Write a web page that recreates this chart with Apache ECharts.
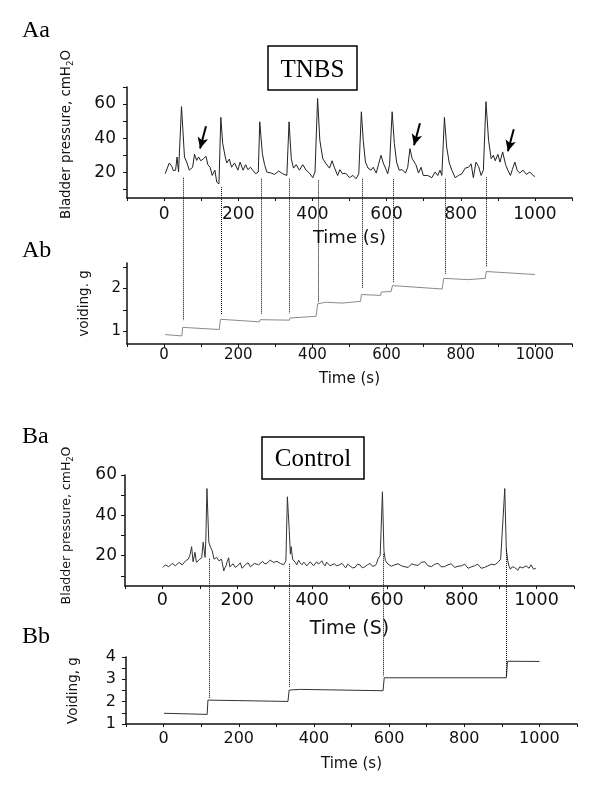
<!DOCTYPE html>
<html><head><meta charset="utf-8">
<script src="https://cdn.jsdelivr.net/npm/echarts@6/dist/echarts.min.js"></script>
<style>html,body{margin:0;padding:0;background:#fff}#c{width:600px;height:786px}</style>
</head><body><div id="c"></div>
<script>
// ---------- Aa: TNBS bladder pressure (cmH2O) ----------
const tnbsPressureTime = [3,14,21,25,31,35,39,47,55,61,
  68,77,82,88,93,99,106,113,118,124,
  130,137,142,148,153,158,165,169,176,182,
  190,199,205,213,220,226,233,240,247,254,
  258,265,271,277,289,298,309,320,331,337,
  343,349,356,365,374,383,392,401,407,414,
  420,428,437,446,453,459,468,474,481,490,
  500,509,518,525,532,537,543,550,558,564,
  572,578,585,591,597,603,608,615,621,627,
  634,642,651,657,663,669,673,679,686,693,
  699,711,722,731,738,744,749,756,762,769,
  776,785,794,803,812,821,828,834,841,848,
  855,861,868,875,882,888,893,900,906,913,
  921,927,934,939,946,952,959,968,977,986,
  995,1000];
const tnbsPressure = [19.2,25.5,23.5,21,21.3,29,20.2,58.5,29,26,
  21.3,23,30.6,27,29,26.8,28,29.4,24.5,23,
  18.2,21.3,14.3,13.3,52.2,37,29,25.5,27.8,23,
  25.5,21.3,26,21.3,24.5,21.6,23,21,19.2,20.2,
  49.6,31,24.5,20.2,19.6,18.8,20.8,19.2,18.2,49.6,
  28,22.5,24.5,21.3,24.5,21.3,19.6,16.9,20.2,63.3,
  38.8,28,25,22.5,26.8,23,18.2,21.6,19.2,19.5,
  16.9,18.2,16.3,19.2,55.5,38.8,26,22.5,21.3,23,
  19.6,24.5,30,25.5,22.5,19.2,24.5,55.5,36.9,26,
  21.3,21.6,19.6,23,33.9,28,29,24.5,19.6,23,
  18.2,18.2,16.9,20.2,18.2,21.3,18.2,52.2,34.9,25.5,
  21.3,16.9,18.2,19.2,22.5,23,25,16.9,26,23.5,
  18.2,21.3,61.4,38.8,28,30,26.8,30.6,26,32,
  24.5,21.3,18.2,21.6,26,21.3,19.6,21.3,18.8,20.2,
  18.2,17.6];
// arrows in Aa (tail -> tip, in data units)
const arrowTailTime = [113,690,943];
const arrowTailValue = [47,48.8,45.3];
const arrowTipTime = [97,674,927];
const arrowTipValue = [34,35.9,32.4];

// ---------- Ab: TNBS voiding (g) ----------
const tnbsVoidTime = [3,48,50,149,152,257,259,338,340,410,414,435,480,482,530,532,584,586,612,616,750,754,820,822,866,869,1000];
const tnbsVoid = [0.92,0.89,1.09,1.04,1.28,1.22,1.27,1.26,1.31,1.35,1.64,1.68,1.66,1.7,1.7,1.86,1.84,1.92,1.93,2.07,1.99,2.24,2.21,2.24,2.24,2.4,2.33];

// dotted connectors Aa -> Ab
const tnbsEventTime = [51,154,261,337,415,534,617,757,868];
const tnbsEventPressure = [16.9,11.4,16.3,16.3,15.3,16.3,16,16.3,17.2];
const tnbsEventVoid = [1.26,1.4,1.4,1.42,1.67,2.0,2.14,2.35,2.5];

// ---------- Ba: Control bladder pressure ----------
const ctrlPressureTime = [1,8,17,26,35,44,53,62,69,74,
  78,82,87,91,98,105,109,114,116,119,
  124,129,133,138,145,151,158,164,167,170,
  173,177,180,184,189,195,200,204,208,213,
  218,223,229,235,240,246,251,257,262,268,
  273,279,284,288,292,297,301,306,310,315,
  319,324,327,330,334,339,342,344,348,352,
  355,359,364,368,373,378,382,386,391,395,
  400,404,408,412,417,421,426,430,435,439,
  444,448,453,459,466,473,480,485,490,495,
  501,508,515,521,528,534,541,548,555,561,
  568,572,577,582,588,592,596,603,612,621,
  630,639,648,657,666,674,683,692,701,710,
  719,728,737,745,754,763,772,781,790,799,
  808,817,826,834,843,852,861,870,879,888,
  897,904,909,915,919,923,926,930,935,941,
  945,950,955,959,963,968,972,976,980,985,
  988,992,995,998];
const ctrlPressure = [14.2,15.5,14.5,16.2,15,16.7,15.5,17.5,18.3,20.5,
  24.5,17,21.7,16.7,18,19,26.7,19.2,27.5,53.3,
  26.7,24,22.5,18.3,19.2,17.5,18.3,12.5,14,15,
  17,19,14.5,15,16,14.2,13.8,15.5,16.5,13.8,
  14.5,15.8,16.5,14.5,15,16.2,17,15.5,15.5,17.2,
  16,16.2,16.5,17.8,18,16.7,16,17.2,17.5,16.2,
  15.5,15.5,16.5,17.5,49.2,32.5,20.8,24.5,18.3,17.5,
  16.7,15.5,17.8,16.5,15.5,16.8,17.2,15,14.2,17,
  16.2,15,14.5,17,15.8,15.8,17.5,16,15,16.8,
  16.7,15,15.5,16,15,15.5,16.2,15,14,15.8,
  15,14,14.2,15.8,15.5,14,14.5,15.5,16.2,14.8,
  15,16,18.8,20,51.7,22.5,17.5,15.8,14.8,15.5,
  16,15,14.5,14.2,16,15.5,15.2,16.7,17,15,
  14.6,15.8,16.2,14.5,14.6,15.5,16,14.2,14.8,15,
  15.8,13.8,14.5,15,15.8,13.8,14.2,15,15.8,15.5,
  16.7,18.3,17.5,53.3,23.3,17.5,15,13.3,14.5,14.2,
  13.5,12.8,14.5,15,14,13.8,15,14.5,13.8,15.5,
  15,13.3,14,13.8];

// ---------- Bb: Control voiding ----------
const ctrlVoidTime = [1,116,118,331,334,364,584,587,590,912,915,1000];
const ctrlVoid = [1.48,1.43,2.07,2.01,2.52,2.55,2.49,3.07,3.13,3.07,3.81,3.8];

// dotted connectors Ba -> Bb
const ctrlEventTime = [125,339,589,917];
const ctrlEventPressure = [18.5,16,21,23.3];
const ctrlEventVoid = [2.16,2.65,3.14,3.1];

// ---------- ticks / labels ----------
const xTicks = [-100,0,100,200,300,400,500,600,700,800,900,1000,1100];
const xLabels = [0,200,400,600,800,1000];
const pressATicks = [10,20,30,40,50,60,70];
const pressBTicks = [10,20,30,40,50,60];
const pressLabels = [20,40,60];
const voidATicks = [1,1.5,2,2.5];
const voidALabels = [1,2];
const voidBTicks = [1,1.5,2,2.5,3,3.5,4];
const voidBLabels = [1,2,3,4];

const SANS = 'DejaVu Sans';
const INK = '#111';
const plain = v => String(v);

function zip(a,b){ return a.map((t,i)=>[t,b[i]]); }

function xAx(gi, fs, margin, name, nfs, ngap){
  return {type:'value', gridIndex:gi, min:-100, max:1100,
    axisLine:{show:true, onZero:false, lineStyle:{color:INK, width:1.5}},
    axisTick:{show:true, inside:false, length:3, customValues:xTicks, lineStyle:{color:INK, width:1}},
    axisLabel:{customValues:xLabels, formatter:plain, fontFamily:SANS, fontSize:fs, color:INK, margin:margin},
    splitLine:{show:false},
    name:name, nameLocation:'middle', nameGap:ngap,
    nameTextStyle:{fontFamily:SANS, fontSize:nfs, color:INK}};
}
function yAx(gi, min, max, ticks, labels, fs, margin, name, rich, ngap, pad){
  return {type:'value', gridIndex:gi, min:min, max:max,
    axisLine:{show:true, onZero:false, lineStyle:{color:INK, width:1.5}},
    axisTick:{show:true, inside:false, length:4, customValues:ticks, lineStyle:{color:INK, width:1}},
    axisLabel:{customValues:labels, formatter:plain, fontFamily:SANS, fontSize:fs, color:INK, margin:margin},
    splitLine:{show:false},
    name:name, nameLocation:'middle', nameGap:ngap, nameRotate:90,
    nameTextStyle:Object.assign({fontFamily:SANS, color:INK, padding:pad}, rich)};
}
function presRich(fs){
  return {rich:{a:{fontFamily:SANS, fontSize:fs, color:INK, lineHeight:16},
                s:{fontFamily:SANS, fontSize:fs*0.65, color:INK, lineHeight:8, verticalAlign:'bottom'}}};
}

const arrowData = arrowTailTime.map((t,i)=>[
  {coord:[t, arrowTailValue[i]], symbol:'none'},
  {coord:[arrowTipTime[i], arrowTipValue[i]], symbol:'arrow'}
]);

const chart = echarts.init(document.getElementById('c'));
chart.setOption({
  animation:false,
  backgroundColor:'#fff',
  grid:[
    {left:127, top:87, width:445, height:111},
    {left:127, top:263, width:445, height:81},
    {left:125, top:475, width:449, height:111},
    {left:126, top:657, width:451, height:67}
  ],
  xAxis:[
    xAx(0, 17, 8, 'Time (s)', 18, 31),
    xAx(1, 15, 4, 'Time (s)', 15, 28),
    xAx(2, 17.5, 5, 'Time (S)', 19, 34),
    xAx(3, 16, 7, 'Time (s)', 15, 33)
  ],
  yAxis:[
    yAx(0, 5, 70, pressATicks, pressLabels, 17, 11, '{a|Bladder pressure, cmH}{s|2}{a|O}', presRich(13.4), 52, [0,0,0,16]),
    yAx(1, 0.7, 2.6, voidATicks, voidALabels, 15, 6, 'voiding. g', {fontSize:13.5}, 36, 0),
    yAx(2, 5, 60, pressBTicks, pressLabels, 17, 8, '{a|Bladder pressure, cmH}{s|2}{a|O}', presRich(12.5), 50, [0,0,0,10]),
    yAx(3, 1, 4, voidBTicks, voidBLabels, 16, 10, 'Voiding, g', {fontSize:13.5}, 46, 0)
  ],
  series:[
    {type:'line', xAxisIndex:0, yAxisIndex:0, data:zip(tnbsPressureTime,tnbsPressure),
     showSymbol:false, symbol:'none', lineStyle:{color:'#222', width:1}, silent:true,
     markLine:{silent:true, animation:false, symbol:['none','arrow'], symbolSize:[8,11],
       lineStyle:{color:'#000', width:2, type:'solid'}, label:{show:false}, emphasis:{disabled:true},
       data:arrowData}},
    {type:'line', xAxisIndex:1, yAxisIndex:1, data:zip(tnbsVoidTime,tnbsVoid),
     showSymbol:false, symbol:'none', lineStyle:{color:'#8a8a8a', width:1}, silent:true},
    {type:'line', xAxisIndex:2, yAxisIndex:2, data:zip(ctrlPressureTime,ctrlPressure),
     showSymbol:false, symbol:'none', lineStyle:{color:'#333', width:1}, silent:true},
    {type:'line', xAxisIndex:3, yAxisIndex:3, data:zip(ctrlVoidTime,ctrlVoid),
     showSymbol:false, symbol:'none', lineStyle:{color:'#333', width:1}, silent:true}
  ]
});

// connectors computed through the axes
const gfx = [];
function connect(times, pv, vv, ax1, ax2){
  times.forEach((t,i)=>{
    const p1 = chart.convertToPixel({xAxisIndex:ax1, yAxisIndex:ax1}, [t, pv[i]]);
    const p2 = chart.convertToPixel({xAxisIndex:ax2, yAxisIndex:ax2}, [t, vv[i]]);
    const x = Math.round(p1[0]) + 0.5;
    gfx.push({type:'line', silent:true, z:50,
      shape:{x1:x, y1:p1[1], x2:x, y2:p2[1]},
      style:{stroke:'#000', lineWidth:1, lineDash:[1,1]}});
  });
}
connect(tnbsEventTime, tnbsEventPressure, tnbsEventVoid, 0, 1);
connect(ctrlEventTime, ctrlEventPressure, ctrlEventVoid, 2, 3);

function panelLabel(txt, x, y){
  return {type:'text', silent:true, x:x, y:y,
    style:{text:txt, font:'24px "Liberation Serif"', fill:'#000', textAlign:'left', verticalAlign:'middle'}};
}
gfx.push(panelLabel('Aa', 22, 31));
gfx.push(panelLabel('Ab', 22, 251));
gfx.push(panelLabel('Ba', 22, 437));
gfx.push(panelLabel('Bb', 22, 637));
function box(txt, x, y, w, h, ty){
  gfx.push({type:'rect', silent:true, shape:{x:x, y:y, width:w, height:h},
    style:{fill:'#fff', stroke:'#000', lineWidth:1.5}});
  gfx.push({type:'text', silent:true, x:x + w/2, y:ty,
    style:{text:txt, font:'25px "Liberation Serif"', fill:'#000', textAlign:'center', verticalAlign:'middle'}});
}
box('TNBS', 268, 46, 89, 44, 70);
box('Control', 262, 437, 102, 42, 459);

chart.setOption({graphic:gfx});
</script>
</body></html>
